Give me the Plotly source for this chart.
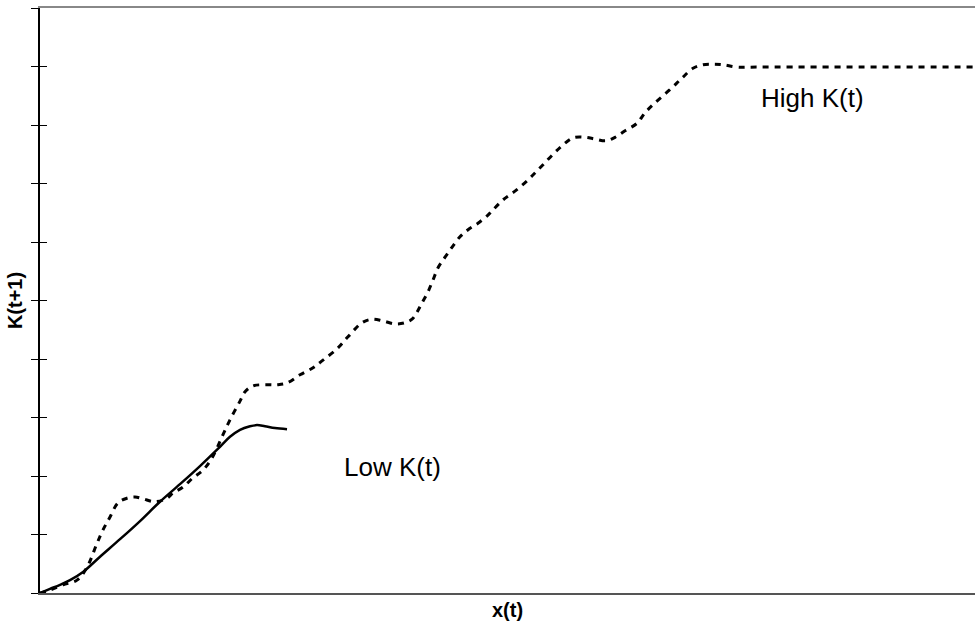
import plotly.graph_objects as go

# Low K(t) path (solid)
low_x = [0, 1.07, 2.14, 3.21, 4.60, 6.42, 8.56, 10.70, 12.83, 14.97, 17.11, 19.25,
         20.32, 21.39, 22.46, 23.21, 24.06, 25.13, 26.42]
low_y = [0, 0.07, 0.14, 0.22, 0.36, 0.62, 0.92, 1.23, 1.56, 1.86, 2.17, 2.50,
         2.67, 2.79, 2.85, 2.87, 2.85, 2.82, 2.80]

# High K(t) path (dashed)
high_x = [0, 1.07, 2.46, 3.96, 5.03, 6.10, 6.74, 7.49, 8.34, 9.30, 10.16, 11.02,
          12.30, 13.58, 14.22, 15.29, 16.36, 17.43, 18.40, 19.47, 20.32, 21.39,
          21.93, 22.78, 24.28, 25.35, 26.42, 27.81, 29.20, 30.27, 31.87, 32.94,
          34.44, 35.51, 36.68, 37.97, 39.04, 39.79, 40.32, 40.86, 41.50, 42.03,
          42.57, 43.32, 44.06, 44.92, 45.78, 46.84, 47.91, 48.45, 49.52, 50.80,
          52.19, 52.94, 53.80, 54.87, 55.94, 57.01, 58.29, 59.36, 60.53, 61.50,
          62.57, 63.85, 64.71, 65.78, 67.06, 68.13, 68.77, 69.84, 70.91, 71.98,
          73.05, 74.55, 76.68, 100]
high_y = [0, 0.05, 0.14, 0.22, 0.44, 0.85, 1.08, 1.30, 1.54, 1.62, 1.64, 1.61,
          1.56, 1.62, 1.71, 1.81, 1.97, 2.10, 2.31, 2.67, 2.96, 3.28,
          3.44, 3.54, 3.56, 3.56, 3.59, 3.73, 3.85, 3.98, 4.19, 4.38,
          4.62, 4.68, 4.65, 4.60, 4.62, 4.68, 4.80, 4.96, 5.15, 5.35,
          5.56, 5.74, 5.91, 6.09, 6.21, 6.32, 6.46, 6.55, 6.72, 6.87,
          7.06, 7.18, 7.32, 7.50, 7.66, 7.78, 7.79, 7.76, 7.73, 7.79,
          7.90, 8.03, 8.21, 8.38, 8.56, 8.72, 8.82, 8.97, 9.03, 9.04,
          9.03, 8.99, 8.99, 8.99]

labels = ["Low K(t)", "High K(t)"]
label_x = [37.75, 82.57]
label_y = [2.15, 8.46]

FONT = "Liberation Sans, Arial, sans-serif"

fig = go.Figure()
fig.add_trace(go.Scatter(x=high_x, y=high_y, mode="lines", line_shape="spline",
                         line=dict(color="black", width=3, dash="6px,6px"),
                         showlegend=False, hoverinfo="skip"))
fig.add_trace(go.Scatter(x=low_x, y=low_y, mode="lines", line_shape="spline",
                         line=dict(color="black", width=2.5),
                         showlegend=False, hoverinfo="skip"))

for t, x, y in zip(labels, label_x, label_y):
    fig.add_annotation(x=x, y=y, text=t, showarrow=False,
                       font=dict(family=FONT, size=26, color="black"))

fig.update_layout(
    width=975, height=628,
    margin=dict(l=40, r=0, t=8, b=35),
    paper_bgcolor="white", plot_bgcolor="white",
    font=dict(family=FONT, color="black"),
    xaxis=dict(range=[0, 100], showgrid=False, zeroline=False, showticklabels=False,
               ticks="", showline=True, linecolor="#555555", linewidth=2,
               title=dict(text="<b>x(t)</b>", font=dict(size=20, family=FONT), standoff=9)),
    xaxis2=dict(range=[0, 100], overlaying="x", side="top", showgrid=False,
                zeroline=False, showticklabels=False, ticks="", showline=True,
                linecolor="#888888", linewidth=2),
    yaxis=dict(range=[0, 10], dtick=1, tick0=0, showgrid=False, zeroline=False,
               showticklabels=False, ticks="outside", ticklen=7, tickwidth=1,
               tickcolor="black", showline=True, linecolor="black", linewidth=2,
               title=dict(text="<b>K(t+1)</b>", font=dict(size=20, family=FONT), standoff=3)),
    yaxis2=dict(range=[0, 10], dtick=1, tick0=0, overlaying="y", showgrid=False,
                zeroline=False, showticklabels=False, ticks="inside", ticklen=7,
                tickwidth=1, tickcolor="black", showline=False),
)
# attach an invisible trace to the overlay axes so they are drawn
fig.add_trace(go.Scatter(x=[None], y=[None], xaxis="x2", yaxis="y2",
                         showlegend=False, hoverinfo="skip"))

fig.write_html("out.html")
